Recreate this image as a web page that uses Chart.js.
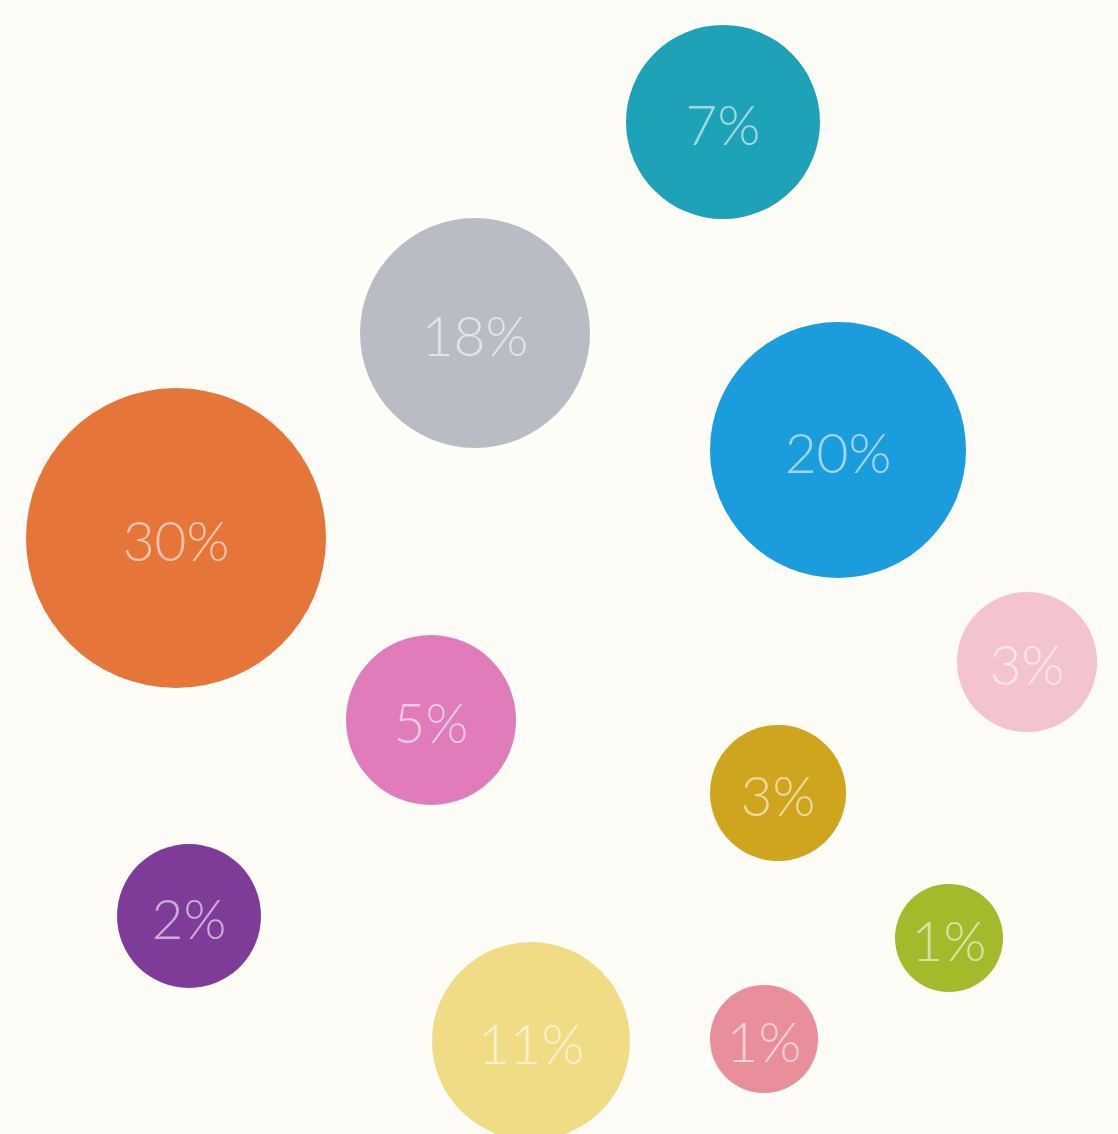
<!DOCTYPE html>
<html>
<head>
<meta charset="utf-8">
<script src="https://cdn.jsdelivr.net/npm/chart.js@4/dist/chart.umd.min.js"></script>
<style>
  html, body { margin: 0; padding: 0; background: #fdfcf6; }
  #wrap { width: 1118px; height: 1134px; position: relative; }
</style>
</head>
<body>
<div id="wrap"><canvas id="bubbleCanvas"></canvas></div>
<script>
// shares
var labels = ['7%', '18%', '20%', '30%', '5%', '3%', '3%', '2%', '1%', '11%', '1%'];
var xs = [723, 475, 838, 176, 431, 1027, 778, 189, 949, 531, 764];
var ys = [122, 333, 450, 538, 720, 662, 793, 916, 938, 1041, 1039];
var rs = [97, 115, 128, 150, 85, 70, 68, 72, 54, 99, 54];

var palette = ['#1ea2b7', '#b9bcc4', '#1b9cdc', '#e67539', '#e07cb9', '#f3c3d0',
               '#cfa51e', '#7e3c98', '#a5ba2b', '#f1dc86', '#e98f9b'];

var points = [];
for (var i in labels) {
    points.push({ x: xs[i], y: ys[i], r: rs[i] });
}

// write the percentage in the middle of each bubble
var bubbleLabels = {
    id: 'bubbleLabels',
    afterDatasetsDraw: function (chart) {
        var ctx = chart.ctx;
        var meta = chart.getDatasetMeta(0);
        ctx.save();
        ctx.font = '300 55px Lato, "Liberation Sans", sans-serif';
        ctx.fillStyle = 'rgba(255,255,255,0.58)';
        ctx.textAlign = 'center';
        ctx.textBaseline = 'middle';
        meta.data.forEach(function (el, i) {
            ctx.fillText(labels[i], el.x, el.y + 5);
        });
        ctx.restore();
    }
};

var bubbleChart = new Chart(document.getElementById('bubbleCanvas'), {
    type: 'bubble',
    data: {
        labels: labels,
        datasets: [{
            data: points,
            backgroundColor: palette,
            hoverBackgroundColor: palette,
            borderWidth: 0,
            hoverBorderWidth: 0,
            hoverRadius: 0,
            clip: false
        }]
    },
    options: {
        responsive: true,
        maintainAspectRatio: false,
        animation: false,
        layout: { padding: 0, autoPadding: false },
        plugins: {
            legend: { display: false },
            tooltip: { enabled: false }
        },
        scales: {
            x: { type: 'linear', min: 0, max: 1118, display: false },
            y: { type: 'linear', min: 0, max: 1134, reverse: true, display: false }
        }
    },
    plugins: [bubbleLabels]
});
</script>
</body>
</html>
